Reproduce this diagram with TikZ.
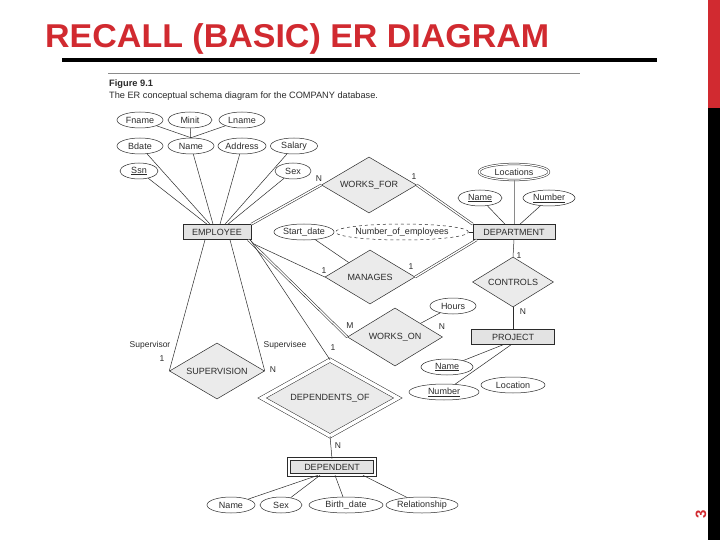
\documentclass[tikz,border=0pt]{standalone}
\usepackage{fontspec}
\setmainfont{Liberation Sans}
\usetikzlibrary{shapes.geometric}
\definecolor{slidered}{HTML}{D12A30}
\definecolor{inkgray}{HTML}{2B2B2B}
\definecolor{entfill}{HTML}{E3E3E3}
\definecolor{relfill}{HTML}{EBEBEB}
\definecolor{rulegray}{HTML}{8A8A8A}

\begin{document}
\begin{tikzpicture}[
  x=1pt, y=-1pt,
  every node/.style={font=\fontsize{9}{10}\selectfont, text=inkgray},
  attr/.style={ellipse, draw=inkgray, line width=0.5pt, inner sep=0.5pt,
    minimum height=16pt},
  multiattr/.style={attr, double, double distance=1.2pt},
  derivedattr/.style={attr, dashed},
  entity/.style={rectangle, draw=inkgray, line width=0.6pt, fill=entfill,
    minimum height=15pt, inner sep=1pt},
  weakentity/.style={entity, double, double distance=2pt, minimum height=16pt},
  rel/.style={diamond, draw=inkgray, line width=0.5pt, fill=relfill,
    aspect=2, inner sep=0.5pt},
  weakrel/.style={rel, double, double distance=3.5pt},
  card/.style={font=\fontsize{8.5}{9}\selectfont, inner sep=0pt},
  link/.style={inkgray, line width=0.5pt},
  dbl/.style={inkgray, line width=0.55pt, double, double distance=1.4pt},
]

% Page frame
\useasboundingbox (0,0) rectangle (720,540);
\fill[white] (0,0) rectangle (720,540);

% Right edge bars and slide number
\fill[slidered] (708,0) rectangle (720,108);
\fill[black] (708,108) rectangle (720,540);
\node[rotate=90, font=\bfseries\fontsize{15}{15}\selectfont, text=slidered]
  (pagenum) at (701,514) {3};

% Title
\node[anchor=base west, inner sep=0pt, text=slidered, xscale=1.03,
  font=\bfseries\fontsize{33}{33}\selectfont] (title) at (45,48)
  {RECALL (BASIC) ER DIAGRAM};
\draw[black, line width=4pt] (62,60) -- (657,60);

% Figure heading
\draw[rulegray, line width=0.6pt] (108,73) -- (580,73);
\node[anchor=base west, inner sep=0pt, font=\bfseries\fontsize{9.3}{10}\selectfont]
  (figno) at (109,87) {Figure 9.1};
\node[anchor=base west, inner sep=0pt, font=\fontsize{9.2}{10}\selectfont]
  (caption) at (109,99) {The ER conceptual schema diagram for the COMPANY database.};

% === Entities ===
\node[entity, minimum width=68pt] (emp) at (217,232) {EMPLOYEE};
\node[entity, minimum width=82pt] (dept) at (514,232) {DEPARTMENT};
\node[entity, minimum width=83pt] (proj) at (513,337) {PROJECT};
\node[weakentity, minimum width=86pt] (dep) at (332,467) {DEPENDENT};

% === Relationships ===
\node[rel, minimum width=95pt, minimum height=56pt] (worksfor) at (369,185) {WORKS\_FOR};
\node[rel, minimum width=90pt, minimum height=54pt] (manages) at (370,277) {MANAGES};
\node[rel, minimum width=81pt, minimum height=50pt] (controls) at (513,282) {CONTROLS};
\node[rel, minimum width=95pt, minimum height=58pt] (workson) at (395,337) {WORKS\_ON};
\node[rel, minimum width=95pt, minimum height=56pt] (superv) at (217,371) {SUPERVISION};
\node[weakrel, minimum width=136pt, minimum height=76pt] (depof) at (330,398) {DEPENDENTS\_OF};

% === EMPLOYEE attributes ===
\node[attr, minimum width=46pt] (fname) at (140,120) {Fname};
\node[attr, minimum width=44pt] (minit) at (190,120) {Minit};
\node[attr, minimum width=46pt] (lname) at (242,120) {Lname};
\node[attr, minimum width=46pt] (bdate) at (140,146) {Bdate};
\node[attr, minimum width=46pt] (ename) at (191,146) {Name};
\node[attr, minimum width=48pt] (address) at (242,146) {Address};
\node[attr, minimum width=47pt] (salary) at (294,146) {Salary};
\node[attr, minimum width=38pt] (ssn) at (139,171) {\underline{Ssn}};
\node[attr, minimum width=36pt] (esex) at (293,171) {Sex};

% === DEPARTMENT attributes ===
\node[multiattr, minimum width=70pt] (locs) at (514,172) {Locations};
\node[attr, minimum width=44pt] (dname) at (480,198) {\underline{Name}};
\node[attr, minimum width=52pt] (dnumber) at (549,198) {\underline{Number}};
\node[attr, minimum width=55pt] (sdate) at (304,232) {Start\_date};
\node[derivedattr, minimum width=108pt] (numemp) at (402,232) {Number\_of\_employees};

% === WORKS_ON and PROJECT attributes ===
\node[attr, minimum width=46pt] (hours) at (453,306) {Hours};
\node[attr, minimum width=52pt] (pname) at (447,367) {\underline{Name}};
\node[attr, minimum width=70pt] (pnumber) at (444,392) {\underline{Number}};
\node[attr, minimum width=64pt] (ploc) at (513,385) {Location};

% === DEPENDENT attributes ===
\node[attr, minimum width=48pt] (depname) at (231,505) {Name};
\node[attr, minimum width=42pt] (depsex) at (281,505) {Sex};
\node[attr, minimum width=74pt] (bdatedep) at (346,505) {Birth\_date};
\node[attr, minimum width=72pt] (relship) at (422,505) {Relationship};

% === Attribute links ===
\draw[link] (fname) -- (ename.north);
\draw[link] (minit) -- (ename);
\draw[link] (lname) -- (ename.north);
\draw[link] (ssn) -- ([xshift=-10pt]emp.north);
\draw[link] (bdate) -- ([xshift=-7pt]emp.north);
\draw[link] (ename) -- ([xshift=-4pt]emp.north);
\draw[link] (address) -- ([xshift=3pt]emp.north);
\draw[link] (salary) -- ([xshift=8pt]emp.north);
\draw[link] (esex) -- ([xshift=11pt]emp.north);
\draw[rulegray, line width=0.5pt] (locs) -- (dept.north);
\draw[link] (dname) -- ([xshift=-9pt]dept.north);
\draw[link] (dnumber) -- ([xshift=6pt]dept.north);
\draw[link] (numemp) -- (dept.west);
\draw[link] (sdate) -- (manages);
\draw[link] (hours) -- (workson);
\draw[link] (pname) -- ([xshift=-10pt]proj.south);
\draw[link] (pnumber) -- ([xshift=-2pt]proj.south);
\draw[link] (depname) -- ([xshift=-14pt]dep.south);
\draw[link] (depsex) -- ([xshift=-12pt]dep.south);
\draw[link] (bdatedep) -- ([xshift=3pt]dep.south);
\draw[link] (relship) -- ([xshift=31pt]dep.south);

% === Relationship links ===
\draw[dbl] (emp.north east) -- (worksfor.west);
\draw[dbl] (worksfor.east) -- (dept.north west);
\draw[link] ([yshift=-3pt]emp.south east) -- (manages.west);
\draw[dbl] (manages.east) -- ([xshift=4pt]dept.south west);
\draw[link] (dept.south) -- (controls.north);
\draw[link] (controls.south) -- (proj.north);
\draw[dbl] ([xshift=-3pt]emp.south east) -- (workson.west);
\draw[dbl] (workson.east) -- (proj.west);
\draw[link] ([xshift=-12pt]emp.south) -- (superv.west);
\draw[link] ([xshift=13pt]emp.south) -- (superv.east);
\draw[link] ([xshift=-1pt]emp.south east) -- (depof.north);
\draw[link] (depof.south) -- (dep.north);

% === Cardinalities and roles ===
\node[card] (wfn) at (319,179) {N};
\node[card] (wf1) at (414,177) {1};
\node[card] (mg1a) at (324,271) {1};
\node[card] (mg1b) at (411,267) {1};
\node[card] (ct1) at (519,256) {1};
\node[card] (ctn) at (523,312) {N};
\node[card] (wom) at (350,326) {M};
\node[card] (won) at (442,327) {N};
\node[card] (sv1) at (162,359) {1};
\node[card] (svn) at (273,370) {N};
\node[card] (do1) at (333,348) {1};
\node[card] (don) at (338,446) {N};
\node[card] (supr) at (150,345) {Supervisor};
\node[card] (supe) at (285,345) {Supervisee};

\end{tikzpicture}
\end{document}
